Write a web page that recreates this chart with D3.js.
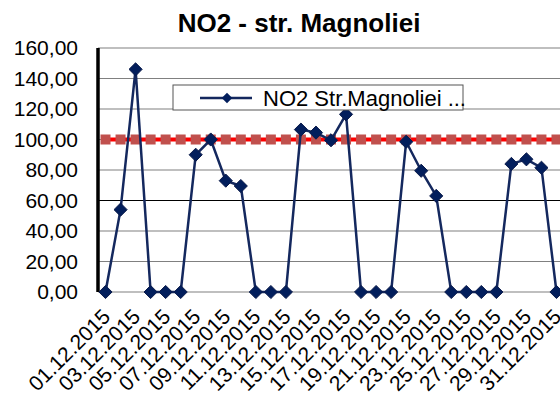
<!DOCTYPE html>
<html>
<head>
<meta charset="utf-8">
<script src="https://cdn.jsdelivr.net/npm/d3@7"></script>
<style>
  body { margin: 0; background: #fff; }
  text { font-family: "Liberation Sans", Arial, sans-serif; }
</style>
</head>
<body>
<svg id="chart" width="560" height="400"></svg>
<script>
const days = d3.range(1, 32).map(d => String(d).padStart(2, '0') + '.12.2015');
const no2 = [0, 54, 146, 0, 0, 0, 90, 100, 73, 69.5, 0, 0, 0, 106.5, 104.5, 99.5,
  116.5, 0, 0, 0, 98.5, 79.5, 63, 0, 0, 0, 0, 84, 87, 81.5, 0];
const limit = days.map(() => 100);
const yTicks = [0, 20, 40, 60, 80, 100, 120, 140, 160];
const title = 'NO2 - str. Magnoliei';
const legendLabel = 'NO2 Str.Magnoliei ..';

const svg = d3.select('#chart');
const plotLeft = 98, plotRight = 564, plotTop = 48, plotBottom = 292;

const x = d3.scaleBand().domain(days).range([plotLeft, plotRight]);
const cx = d => x(d) + x.bandwidth() / 2;
const y = d3.scaleLinear().domain([0, 160]).range([plotBottom, plotTop]);

// title
svg.append('text')
  .attr('x', 299).attr('y', 32)
  .attr('text-anchor', 'middle')
  .attr('font-size', 26).attr('font-weight', 'bold')
  .text(title);

// gridlines
svg.append('g').selectAll('line')
  .data(yTicks)
  .enter().append('line')
  .attr('x1', plotLeft).attr('x2', plotRight)
  .attr('y1', d => y(d)).attr('y2', d => y(d))
  .style('stroke', d => d === 60 ? '#000' : '#808080')
  .style('stroke-width', 1.2);

// y axis labels
const yAxis = d3.axisLeft(y).tickValues(yTicks).tickSize(0).tickPadding(20)
  .tickFormat(d => d3.format('.2f')(d).replace('.', ','));
svg.append('g')
  .attr('transform', `translate(${plotLeft},0)`)
  .call(yAxis)
  .call(g => g.select('.domain').remove())
  .call(g => g.selectAll('text').attr('font-size', 21).attr('fill', '#000')
    .attr('font-family', '"Liberation Sans", Arial, sans-serif'));

// left axis line
svg.append('line')
  .attr('x1', plotLeft).attr('x2', plotLeft)
  .attr('y1', plotTop).attr('y2', plotBottom)
  .style('stroke', '#000').style('stroke-width', 3.5);

// x labels
svg.append('g').selectAll('text')
  .data(days.filter((d, i) => i % 2 === 0))
  .enter().append('text')
  .attr('text-anchor', 'end')
  .attr('font-size', 21)
  .attr('transform', d => `translate(${cx(d) + 6},${plotBottom + 26}) rotate(-45)`)
  .text(d => d);

// limit series
svg.append('path')
  .datum(limit)
  .attr('d', d3.line().x((d, i) => cx(days[i])).y(d => y(d)))
  .style('fill', 'none').style('stroke', '#ff0000').style('stroke-width', 4);
svg.append('g').selectAll('rect')
  .data(limit)
  .enter().append('rect')
  .attr('x', (d, i) => cx(days[i]) - 5)
  .attr('y', d => y(d) - 5)
  .attr('width', 10).attr('height', 10)
  .style('fill', '#c0504d');

// NO2 series
svg.append('path')
  .datum(no2)
  .attr('d', d3.line().x((d, i) => cx(days[i])).y(d => y(d)))
  .style('fill', 'none').style('stroke', '#14285e').style('stroke-width', 2.5);
const diamond = d3.symbol().type(d3.symbolDiamond2).size(110);
svg.append('g').selectAll('path')
  .data(no2)
  .enter().append('path')
  .attr('d', diamond)
  .attr('transform', (d, i) => `translate(${cx(days[i])},${y(d)})`)
  .style('fill', '#021e5c').style('stroke', '#0a1a4a').style('stroke-width', 1);

// legend
const lg = svg.append('g');
lg.append('rect')
  .attr('x', 173).attr('y', 85).attr('width', 290).attr('height', 25)
  .style('fill', '#fff').style('stroke', '#555').style('stroke-width', 1);
lg.append('line')
  .attr('x1', 200).attr('x2', 252).attr('y1', 98).attr('y2', 98)
  .style('stroke', '#14285e').style('stroke-width', 2.5);
lg.append('path')
  .attr('d', d3.symbol().type(d3.symbolDiamond2).size(70))
  .attr('transform', 'translate(227,98)')
  .style('fill', '#021e5c');
lg.append('text')
  .attr('x', 263).attr('y', 106)
  .attr('font-size', 22)
  .text(legendLabel + '.');
</script>
</body>
</html>
